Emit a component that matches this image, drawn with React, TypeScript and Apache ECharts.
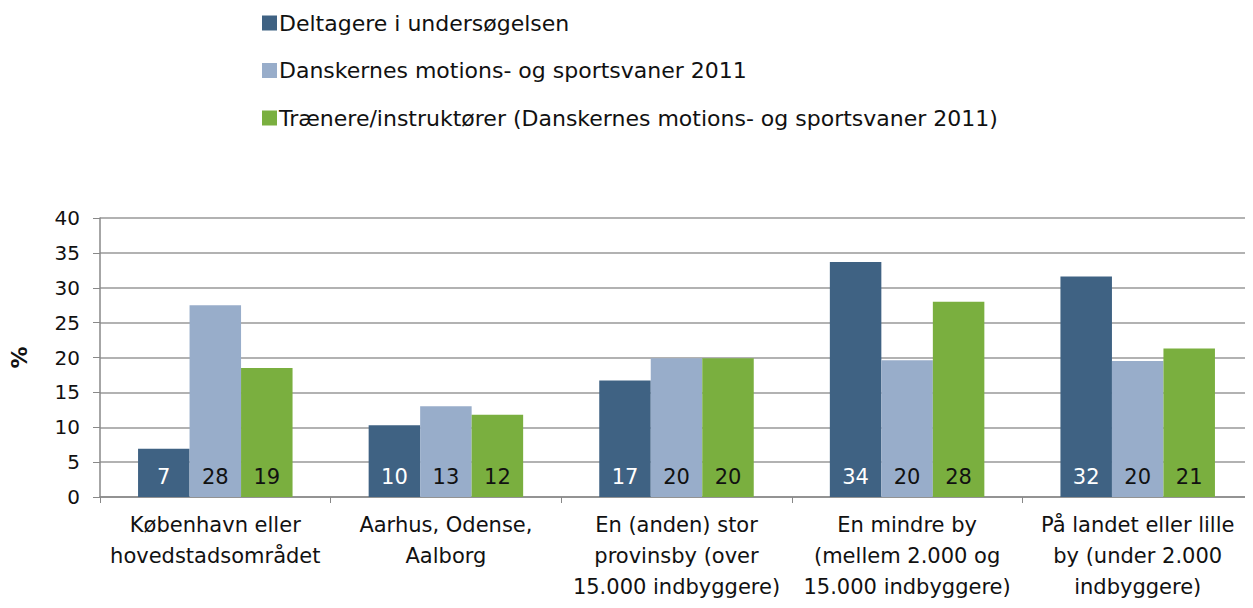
import React, { useEffect, useRef } from "react";
import * as echarts from "echarts";

const categories = [
  "København eller\nhovedstadsområdet",
  "Aarhus, Odense,\nAalborg",
  "En (anden) stor\nprovinsby (over\n15.000 indbyggere)",
  "En mindre by\n(mellem 2.000 og\n15.000 indbyggere)",
  "På landet eller lille\nby (under 2.000\nindbyggere)",
];
const seriesNames = [
  "Deltagere i undersøgelsen",
  "Danskernes motions- og sportsvaner 2011",
  "Trænere/instruktører (Danskernes motions- og sportsvaner 2011)",
];
const deltagere = [6.9, 10.3, 16.7, 33.7, 31.6];
const danskerne = [27.5, 13.0, 19.9, 19.6, 19.5];
const traenere = [18.5, 11.8, 19.9, 28.0, 21.3];
const colors = ["#3f6283", "#98adca", "#7aaf3f"];
const labelColors = ["#ffffff", "#111111", "#111111"];

const FONT = "'DejaVu Sans', sans-serif";

export default function App() {
  const ref = useRef<HTMLDivElement>(null);
  useEffect(() => {
    if (!ref.current) return;
    const chart = echarts.init(ref.current, undefined, { renderer: "svg" });
    const data = [deltagere, danskerne, traenere];
    chart.setOption({
      animation: false,
      textStyle: { fontFamily: FONT },
      legend: {
        orient: "vertical",
        left: 257,
        top: 7,
        itemGap: 25.5,
        itemWidth: 15,
        itemHeight: 15,
        icon: "rect",
        textStyle: { fontSize: 22, lineHeight: 22, color: "#111", fontFamily: FONT, padding: [0, 0, 0, -3] },
        data: seriesNames,
      },
      grid: { left: 97, right: 0, top: 218, bottom: 111, containLabel: false },
      xAxis: {
        type: "category",
        data: categories,
        axisLine: { lineStyle: { color: "#888", width: 1.5 } },
        axisTick: { show: true, length: 6, lineStyle: { color: "#888" } },
        axisLabel: { fontSize: 21, color: "#111", lineHeight: 31, margin: 12, interval: 0, fontFamily: FONT },
      },
      yAxis: {
        type: "value",
        min: 0,
        max: 40,
        interval: 5,
        name: "%",
        nameLocation: "middle",
        nameGap: 70,
        nameRotate: 90,
        nameTextStyle: { fontSize: 22, fontWeight: "bold", color: "#111", fontFamily: FONT },
        axisLine: { show: true, lineStyle: { color: "#888", width: 1.5 } },
        axisTick: { show: true, length: 7, lineStyle: { color: "#888" } },
        axisLabel: { fontSize: 20, color: "#111", margin: 20, fontFamily: FONT },
        splitLine: { lineStyle: { color: "#999", width: 1.5 } },
      },
      series: seriesNames.map((name, i) => ({
        name,
        type: "bar",
        data: data[i],
        barGap: "0%",
        barCategoryGap: "33%",
        itemStyle: { color: colors[i] },
        label: {
          show: true,
          position: "insideBottom",
          distance: 10,
          fontSize: 21,
          color: labelColors[i],
          fontFamily: FONT,
          formatter: (p: any) => String(Math.round(p.value)),
        },
      })),
    });
    return () => chart.dispose();
  }, []);
  return <div ref={ref} style={{ width: 1253, height: 608, margin: -8 }} />;
}
